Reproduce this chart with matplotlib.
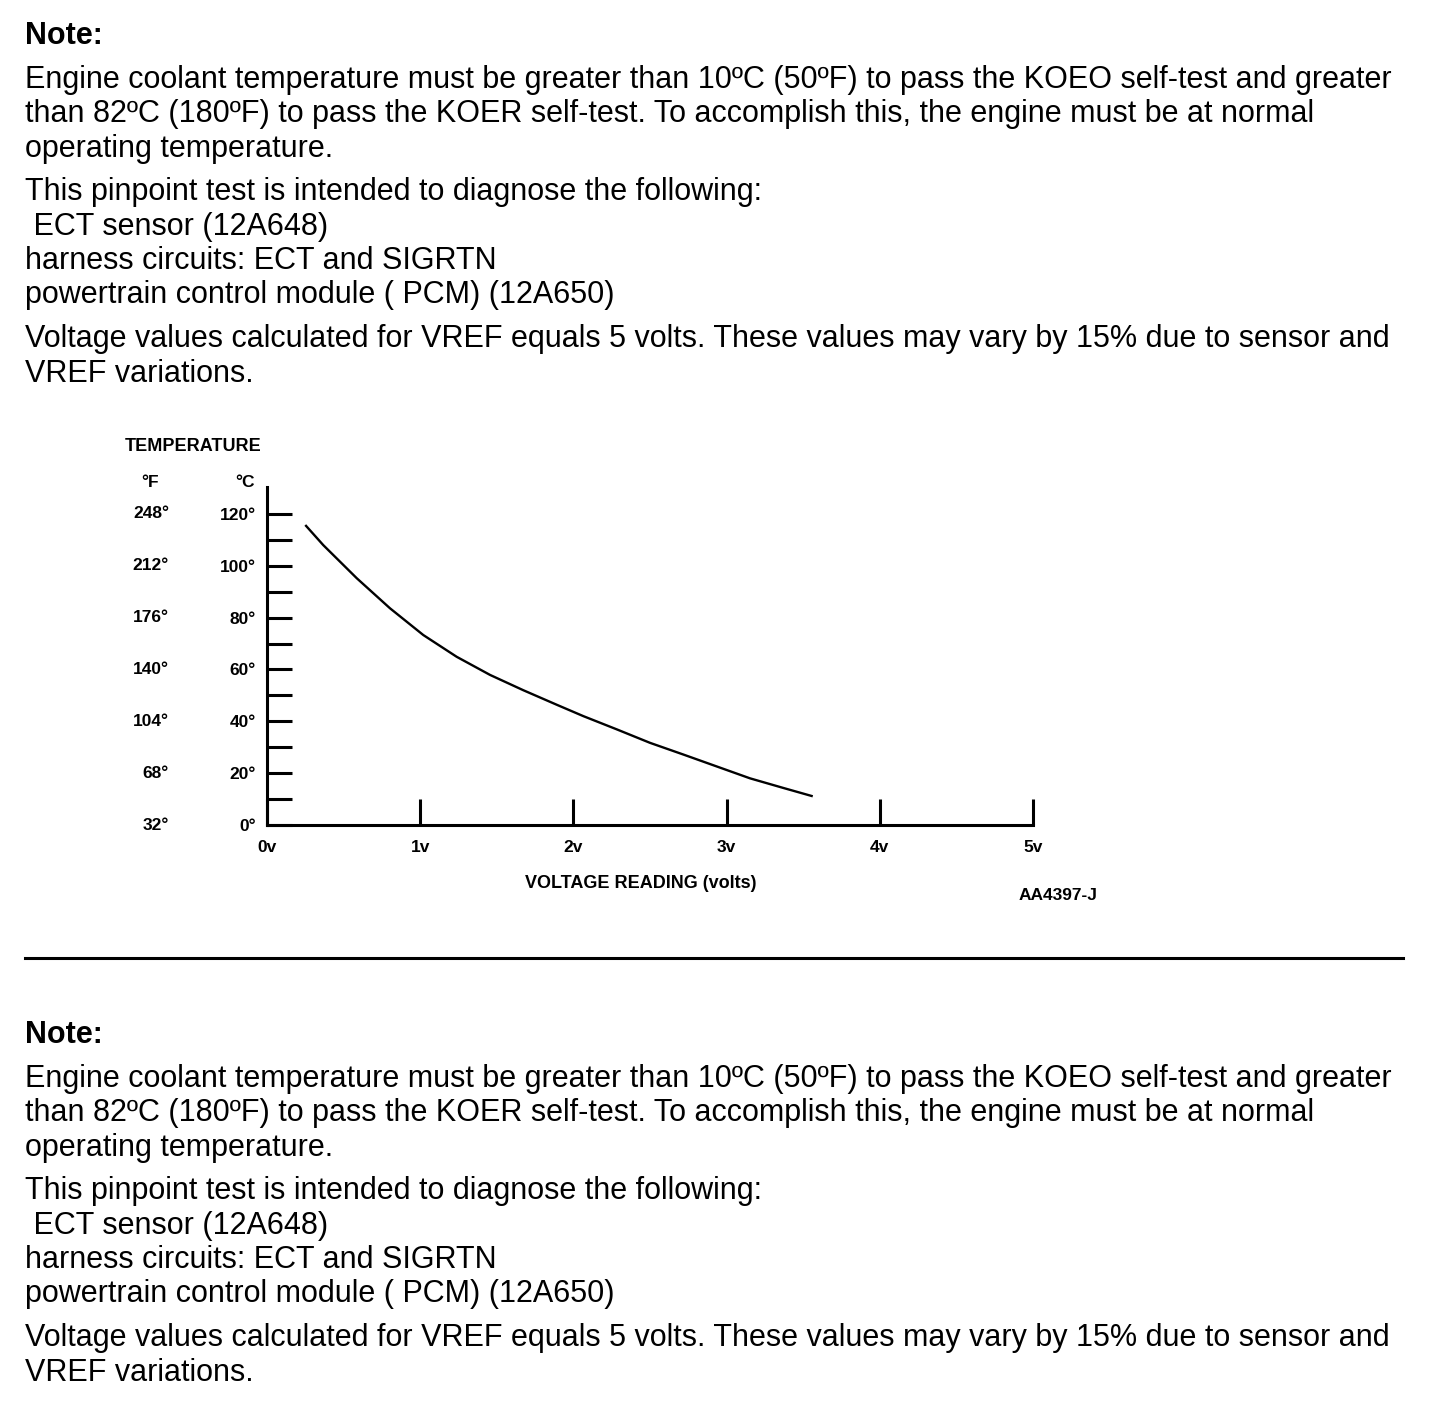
import matplotlib.pyplot as plt
from matplotlib.lines import Line2D

plt.rcParams['font.family'] = ['Liberation Sans', 'DejaVu Sans']

W, H = 1440, 1416

# -------------- PAGE TEXT ------------------
note_lines = [
    "Engine coolant temperature must be greater than 10ºC (50ºF) to pass the KOEO self-test and greater",
    "than 82ºC (180ºF) to pass the KOER self-test. To accomplish this, the engine must be at normal",
    "operating temperature.",
]
diag_lines = [
    "This pinpoint test is intended to diagnose the following:",
    " ECT sensor (12A648)",
    "harness circuits: ECT and SIGRTN",
    "powertrain control module ( PCM) (12A650)",
]
vref_lines = [
    "Voltage values calculated for VREF equals 5 volts. These values may vary by 15% due to sensor and",
    "VREF variations.",
]

# -------------- CHART DATA ------------------
# ECT sensor curve
volts = [0.255, 0.367, 0.586, 0.803, 1.02, 1.238, 1.456, 1.673, 1.891,
         2.065, 2.283, 2.5, 2.717, 2.935, 3.153, 3.37, 3.555]
temp_c = [115.4, 108.0, 95.2, 83.6, 73.3, 64.9, 57.9, 52.0, 46.4,
          42.0, 36.9, 31.7, 27.2, 22.6, 18.0, 14.3, 11.2]

x_ticks = [0, 1, 2, 3, 4, 5]
x_labels = ["0v", "1v", "2v", "3v", "4v", "5v"]
c_ticks = [0, 20, 40, 60, 80, 100, 120]
c_labels = ["0°", "20°", "40°", "60°", "80°", "100°", "120°"]
f_labels = ["32°", "68°", "104°", "140°", "176°", "212°", "248°"]

BODY = 22
SMALL = 12.5


def fx(x):
    return x / W


def fy(y):
    return 1 - y / H


def text_block(fig, top):
    # top = pixel y of the "Note:" line
    fig.text(fx(25), fy(top), "Note:", fontsize=BODY, fontweight='bold', va='center')
    ys = [top + 44, top + 78, top + 113]
    for y, s in zip(ys, note_lines):
        fig.text(fx(25), fy(y), s, fontsize=BODY, va='center')
    ys = [top + 156, top + 191, top + 225, top + 259]
    for y, s in zip(ys, diag_lines):
        fig.text(fx(25), fy(y), s, fontsize=BODY, va='center')
    ys = [top + 303, top + 338]
    for y, s in zip(ys, vref_lines):
        fig.text(fx(25), fy(y), s, fontsize=BODY, va='center')


fig = plt.figure(figsize=(W / 100, H / 100), dpi=100)

text_block(fig, 36)
text_block(fig, 1035)

fig.add_artist(Line2D([fx(25), fx(1403)], [fy(958), fy(958)], color='black', linewidth=2.2))

# chart axes
ax = fig.add_axes([fx(267), fy(825), (1033 - 267) / W, (825 - 487) / H])
ax.plot(volts, temp_c, color='black', linewidth=1.7)
ax.set_xlim(0, 5)
ax.set_ylim(0, 338 / 2.592)

for side in ['top', 'right']:
    ax.spines[side].set_visible(False)
for side in ['left', 'bottom']:
    ax.spines[side].set_linewidth(2.2)

ax.set_yticks(range(0, 130, 10))
ax.set_yticklabels([c_labels[i // 2] if i % 2 == 0 else "" for i in range(13)])
ax.tick_params(axis='y', direction='in', length=18, width=2.2, pad=8, labelsize=SMALL)
ax.set_xticks(x_ticks)
ax.set_xticklabels(x_labels)
ax.tick_params(axis='x', direction='in', length=19, width=2.2, pad=11, labelsize=SMALL)
for lab in ax.get_xticklabels() + ax.get_yticklabels():
    lab.set_fontweight('bold')

fx_off = -(267 - 169) / (1033 - 267)
for t, s in zip(c_ticks, f_labels):
    ax.text(fx_off, t, s, transform=ax.get_yaxis_transform(), ha='right', va='center',
            fontsize=SMALL, fontweight='bold')

fig.text(fx(125), fy(447), "TEMPERATURE", fontsize=13, fontweight='bold', va='center')
fig.text(fx(150), fy(482), "°F", fontsize=SMALL, fontweight='bold', ha='center', va='center')
fig.text(fx(245), fy(482), "°C", fontsize=SMALL, fontweight='bold', ha='center', va='center')
fig.text(fx(641), fy(883), "VOLTAGE READING (volts)", fontsize=13, fontweight='bold',
         ha='center', va='center')
fig.text(fx(1058), fy(895), "AA4397-J", fontsize=SMALL, fontweight='bold', ha='center', va='center')

fig.savefig("out.png", dpi=100)
